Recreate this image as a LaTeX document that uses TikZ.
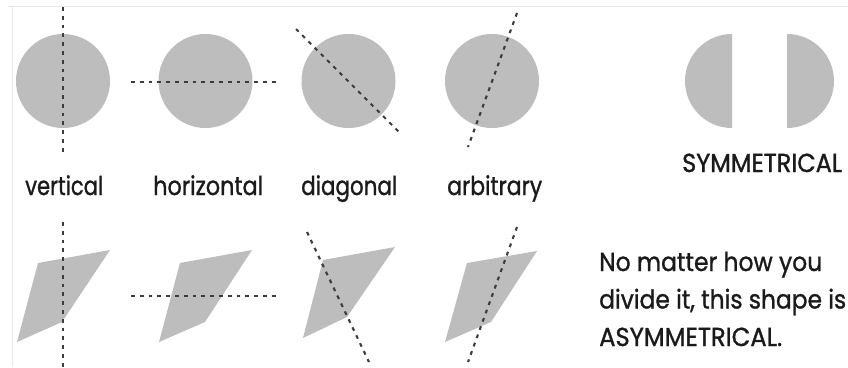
\documentclass[tikz,border=0pt]{standalone}
\usepackage{fontspec}
\setmainfont{Poppins}
\newfontfamily\lblfont{Poppins}[FakeBold=1.2]
\usepackage{graphicx}
\definecolor{shapegrey}{HTML}{BDBDBD}
\definecolor{cutgrey}{HTML}{3C3C3C}
\definecolor{framegrey}{HTML}{E8E8E8}
\definecolor{inkblack}{HTML}{1A1A1A}
\begin{document}
\begin{tikzpicture}[x=1pt,y=-1pt,
  shapefill/.style={fill=shapegrey},
  cutline/.style={draw=cutgrey, line width=2.1pt, dash pattern=on 3.8pt off 5pt},
  frameline/.style={draw=framegrey, line width=1pt},
  lbl/.style={inner sep=0pt, anchor=base west, text=inkblack, font=\lblfont\fontsize{26}{30}\selectfont}]
\useasboundingbox (0,0) rectangle (848,367);
% frame
\draw[frameline] (8,6) -- (848,6);
\draw[frameline] (12,6) -- (12,367);
% circles
\fill[shapefill] (63,81) circle (47pt);
\fill[shapefill] (205.5,81) circle (47pt);
\fill[shapefill] (348.5,81) circle (47pt);
\fill[shapefill] (492,81) circle (47pt);
% half circles
\fill[shapefill] (732,34) arc[start angle=90, end angle=270, radius=47pt] -- cycle;
\fill[shapefill] (787,34) arc[start angle=90, end angle=-90, radius=47pt] -- cycle;
% parallelograms
\fill[shapefill] (38,263) -- (110,250) -- (62,322) -- (17,342) -- cycle;
\fill[shapefill] (180,263) -- (252,250) -- (205,322) -- (159,342) -- cycle;
\fill[shapefill] (323,260) -- (395,247) -- (347,317) -- (303,338) -- cycle;
\fill[shapefill] (467,263) -- (537,251) -- (491,322) -- (445,342) -- cycle;
% cut lines (circles)
\coordinate (c1a) at (63,7);    \coordinate (c1b) at (63,153);
\coordinate (c2a) at (131,82);  \coordinate (c2b) at (278,82);
\coordinate (c3a) at (296,29);  \coordinate (c3b) at (399,132);
\coordinate (c4a) at (517,13);  \coordinate (c4b) at (468,147);
\draw[cutline] (c1a) -- (c1b);
\draw[cutline] (c2a) -- (c2b);
\draw[cutline] (c3a) -- (c3b);
\draw[cutline] (c4a) -- (c4b);
% cut lines (parallelograms)
\coordinate (p1a) at (63,222);  \coordinate (p1b) at (63,367);
\coordinate (p2a) at (131,296); \coordinate (p2b) at (278,296);
\coordinate (p3a) at (307,232); \coordinate (p3b) at (369,362);
\coordinate (p4a) at (517,227); \coordinate (p4b) at (468,362);
\draw[cutline] (p1a) -- (p1b);
\draw[cutline] (p2a) -- (p2b);
\draw[cutline] (p3a) -- (p3b);
\draw[cutline] (p4a) -- (p4b);
% labels
\node[lbl] (tv) at (25,195) {\resizebox{78pt}{\height}{vertical}};
\node[lbl] (th) at (153,195) {\resizebox{110pt}{\height}{horizontal}};
\node[lbl] (td) at (301,195) {\resizebox{96pt}{\height}{diagonal}};
\node[lbl] (ta) at (447,195) {\resizebox{95pt}{\height}{arbitrary}};
\node[lbl] (tsym) at (682,172) {\resizebox{160pt}{\height}{SYMMETRICAL}};
\node[lbl] (t1) at (599,271) {\resizebox{223pt}{\height}{No matter how you}};
\node[lbl] (t2) at (599,308.5) {\resizebox{247pt}{\height}{divide it, this shape is}};
\node[lbl] (t3) at (599,346) {\resizebox{183pt}{\height}{ASYMMETRICAL.}};
\end{tikzpicture}
\end{document}
